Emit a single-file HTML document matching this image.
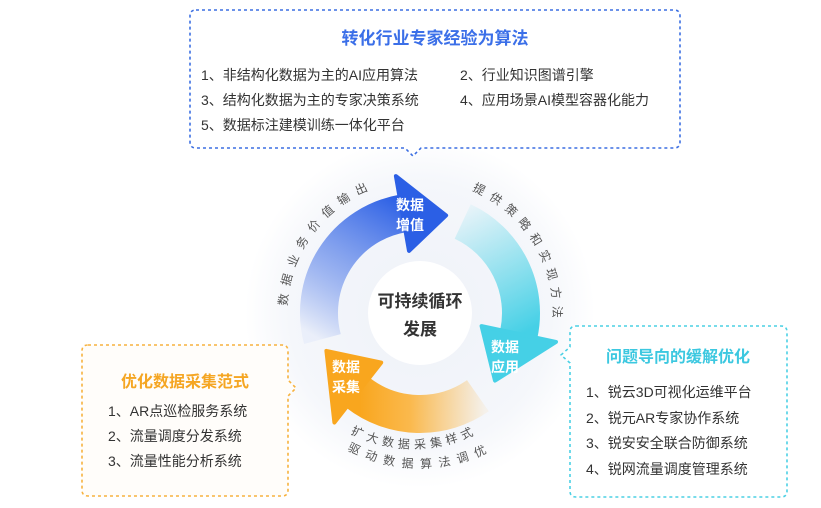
<!DOCTYPE html>
<html><head><meta charset="utf-8"><style>
html,body{margin:0;padding:0;background:#fff;}
svg{display:block;font-family:"Liberation Sans","Noto Sans CJK SC",sans-serif;}
</style></head><body>
<svg width="821" height="508" viewBox="0 0 821 508" xmlns="http://www.w3.org/2000/svg">
<defs>
<radialGradient id="halo" cx="420" cy="313" r="175" gradientUnits="userSpaceOnUse">
<stop offset="0" stop-color="#eef1f8"/><stop offset="0.75" stop-color="#f5f7fb"/><stop offset="1" stop-color="#ffffff"/></radialGradient>
<linearGradient id="gb" x1="330" y1="345" x2="410" y2="205" gradientUnits="userSpaceOnUse">
<stop offset="0" stop-color="#2f62e6" stop-opacity="0.05"/><stop offset="0.45" stop-color="#4f7ae8" stop-opacity="0.6"/><stop offset="1" stop-color="#2b5fe5"/></linearGradient>
<linearGradient id="gc" x1="455" y1="215" x2="520" y2="335" gradientUnits="userSpaceOnUse">
<stop offset="0" stop-color="#4fd3e6" stop-opacity="0.08"/><stop offset="1" stop-color="#45d0e6"/></linearGradient>
<linearGradient id="go" x1="485" y1="395" x2="360" y2="395" gradientUnits="userSpaceOnUse">
<stop offset="0" stop-color="#fbb23a" stop-opacity="0.08"/><stop offset="0.6" stop-color="#fbae2e" stop-opacity="0.85"/><stop offset="1" stop-color="#f9a61e"/></linearGradient>
<path id="tb" d="M287.2,306.0 A133,133 0 0 1 378.9,186.5"/>
<path id="tr" d="M472.0,190.5 A133,133 0 0 1 551.7,331.5"/>
<path id="t1" d="M350.5,433.4 A139,139 0 0 0 482.4,430.4"/>
<path id="t2" d="M347.2,449.9 A155,155 0 0 0 497.5,447.2"/>
</defs>
<circle cx="420" cy="313" r="175" fill="url(#halo)"/>
<path d="M196,10 H674 Q680,10 680,16 V142 Q680,148 674,148 H421 L413,156 L405,148 H196 Q190,148 190,142 V16 Q190,10 196,10 Z" fill="#fff" stroke="#3c6fe2" stroke-width="1.6" stroke-dasharray="3,3"/>
<path d="M88,345 H282 Q288,345 288,351 V380 L296,388 L288,396 V490 Q288,496 282,496 H88 Q82,496 82,490 V351 Q82,345 88,345 Z" fill="#fffdfa" stroke="#f7b23e" stroke-width="1.6" stroke-dasharray="3,3"/>
<path d="M576,326 H781 Q787,326 787,332 V491 Q787,497 781,497 H576 Q570,497 570,491 V363 L561,355 L570,347 V332 Q570,326 576,326 Z" fill="#fff" stroke="#4bd0e4" stroke-width="1.6" stroke-dasharray="3,3"/>
<path d="M322.4,339.1 A101,101 0 0 1 402.5,213.5" fill="none" stroke="url(#gb)" stroke-width="38"/>
<path d="M462.7,221.5 A101,101 0 0 1 518.8,334.0" fill="none" stroke="url(#gc)" stroke-width="38"/>
<path d="M477.9,395.7 A101,101 0 0 1 357.8,392.6" fill="none" stroke="url(#go)" stroke-width="38"/>
<polygon points="409.0,250.9 395.9,176.1 446.1,215.4" fill="#2b5fe5" stroke="#2b5fe5" stroke-width="4" stroke-linejoin="round"/>
<polygon points="481.6,326.1 556.0,341.9 495.0,380.6" fill="#45d0e6" stroke="#45d0e6" stroke-width="4" stroke-linejoin="round"/>
<polygon points="381.2,362.6 334.4,422.5 326.4,350.9" fill="#f9a61e" stroke="#f9a61e" stroke-width="4" stroke-linejoin="round"/>
<circle cx="420" cy="313" r="52" fill="#fff"/>
<g fill="#fff" font-size="14" font-weight="bold" text-anchor="middle">
<text x="410" y="210">数据</text><text x="410" y="230">增值</text>
<text x="505" y="352">数据</text><text x="505" y="372">应用</text>
<text x="346" y="372">数据</text><text x="346" y="392">采集</text>
</g>
<g fill="#333" font-size="17" font-weight="bold" text-anchor="middle">
<text x="420" y="307">可持续循环</text><text x="420" y="335">发展</text>
</g>
<g fill="#555" font-size="12">
<text letter-spacing="7.5"><textPath href="#tb">数据业务价值输出</textPath></text>
<text letter-spacing="6.5"><textPath href="#tr">提供策略和实现方法</textPath></text>
<text letter-spacing="4.5"><textPath href="#t1">扩大数据采集样式</textPath></text>
<text letter-spacing="7"><textPath href="#t2">驱动数据算法调优</textPath></text>
</g>
<text x="435" y="44" fill="#3b6fe8" font-size="17" font-weight="bold" text-anchor="middle">转化行业专家经验为算法</text>
<g fill="#333" font-size="14">
<text x="201" y="80">1、非结构化数据为主的AI应用算法</text>
<text x="460" y="80">2、行业知识图谱引擎</text>
<text x="201" y="105">3、结构化数据为主的专家决策系统</text>
<text x="460" y="105">4、应用场景AI模型容器化能力</text>
<text x="201" y="130">5、数据标注建模训练一体化平台</text>
</g>
<text x="185" y="387" fill="#f5a623" font-size="16" font-weight="bold" text-anchor="middle">优化数据采集范式</text>
<g fill="#333" font-size="14">
<text x="108" y="416">1、AR点巡检服务系统</text>
<text x="108" y="441">2、流量调度分发系统</text>
<text x="108" y="466">3、流量性能分析系统</text>
</g>
<text x="678" y="362" fill="#3cc8e0" font-size="16" font-weight="bold" text-anchor="middle">问题导向的缓解优化</text>
<g fill="#333" font-size="14">
<text x="586" y="397">1、锐云3D可视化运维平台</text>
<text x="586" y="423">2、锐元AR专家协作系统</text>
<text x="586" y="448">3、锐安安全联合防御系统</text>
<text x="586" y="474">4、锐网流量调度管理系统</text>
</g>
</svg>
</body></html>
